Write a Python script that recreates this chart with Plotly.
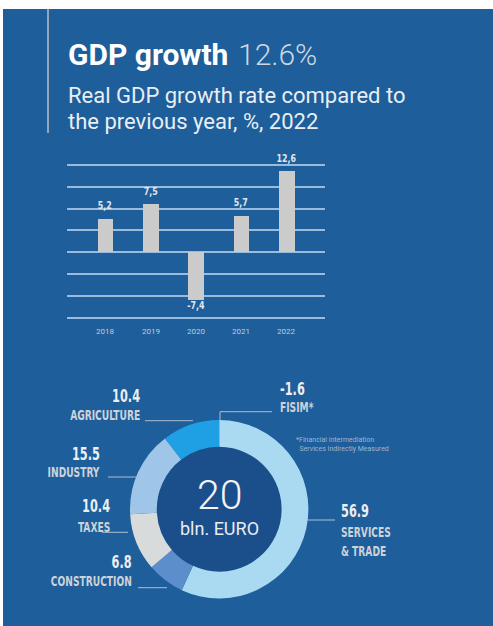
import plotly.graph_objects as go

# ---------------- data ----------------
years = ["2018", "2019", "2020", "2021", "2022"]
growth = [5.2, 7.5, -7.4, 5.7, 12.6]
growth_labels = ["5,2", "7,5", "-7,4", "5,7", "12,6"]

sectors = ["SERVICES<br>& TRADE", "CONSTRUCTION", "TAXES", "INDUSTRY", "AGRICULTURE"]
shares = [56.9, 6.8, 10.4, 15.5, 10.4]
fisim_label = "FISIM*"
fisim_value = -1.6
total_value = "20"
total_unit = "bln. EURO"

W, H = 493, 626
BG = "#1d5e9b"

def px(x):
    return x / W

def py(y):
    return 1 - y / H

# condensed label fonts (second family only used as a CSS hook for the anchor side)
COND_R = "DejaVu Sans Condensed, Roboto, sans-serif"
COND_L = "DejaVu Sans Condensed, Lato, sans-serif"
COND_C = "DejaVu Sans Condensed, Inter, sans-serif"
ROB = "Roboto, Noto Sans, sans-serif"

fig = go.Figure()

# ---------------- bar chart ----------------
fig.add_trace(go.Bar(
    x=years, y=growth, marker=dict(color="#cbcbcb", line=dict(width=0)),
    width=0.35, hoverinfo="skip", showlegend=False,
))

zero_px = 252.3
ppu = 6.42
top_px, bot_px = 150, 320
fig.update_layout(
    xaxis=dict(type="category", domain=[px(66.7), px(325)], range=[-0.85, 4.85], showgrid=False,
               showticklabels=False, zeroline=False, showline=False, fixedrange=True),
    yaxis=dict(domain=[py(bot_px), py(top_px)],
               range=[-(bot_px - zero_px) / ppu, (zero_px - top_px) / ppu],
               tick0=0, dtick=21.9 / ppu, showgrid=True,
               gridcolor="rgba(185,210,238,0.8)", gridwidth=1.5,
               zeroline=True, zerolinecolor="rgba(185,210,238,0.8)", zerolinewidth=1.5,
               showticklabels=False, showline=False, fixedrange=True),
)

annotations = []
for i, (yr, v, lab) in enumerate(zip(years, growth, growth_labels)):
    annotations.append(dict(
        x=i, y=v, xref="x", yref="y", text=lab, showarrow=False,
        yanchor="middle", yshift=13 if v > 0 else -6,
        font=dict(family=COND_C, size=11, color="#e4e6ea", weight="bold"),
    ))
    annotations.append(dict(
        x=i, y=py(331.7), xref="x", yref="paper", text=yr, showarrow=False,
        yanchor="middle", font=dict(family=ROB, size=8, color="#c3ccd8"),
    ))

# ---------------- donut ----------------
cx, cy, R = 219.2, 509.2, 89.2
colors = ["#aad9f2", "#5b8ecb", "#d8dbdc", "#9fc6e9", "#20a0e4"]
fig.add_trace(go.Pie(
    values=shares, labels=sectors, sort=False, direction="clockwise", rotation=0,
    hole=0.70, marker=dict(colors=colors, line=dict(width=0)),
    textinfo="none", hoverinfo="skip", showlegend=False,
    domain=dict(x=[px(cx - R), px(cx + R)], y=[py(cy + R), py(cy - R)]),
))

shapes = [
    dict(type="rect", xref="paper", yref="paper", x0=0, x1=1, y0=py(9), y1=1,
         fillcolor="white", line=dict(width=0), layer="below"),
    dict(type="rect", xref="paper", yref="paper", x0=0, x1=px(3), y0=0, y1=1,
         fillcolor="white", line=dict(width=0), layer="below"),
    dict(type="line", xref="paper", yref="paper", x0=px(48), x1=px(48), y0=py(9), y1=py(133),
         line=dict(color="#92a5ba", width=2)),
    dict(type="circle", xref="paper", yref="paper",
         x0=px(cx - 62.5), x1=px(cx + 62.5), y0=py(cy + 62.5), y1=py(cy - 62.5),
         fillcolor="#1b4f8c", line=dict(width=0), layer="below"),
]

LINE = dict(color="#aebfd2", width=1)
def hline(x0, x1, y):
    shapes.append(dict(type="line", xref="paper", yref="paper",
                       x0=px(x0), x1=px(x1), y0=py(y), y1=py(y), line=LINE))

hline(145, 193, 420.7)
hline(108, 140, 477)
hline(102, 128, 532.3)
hline(138, 167, 587.7)
hline(308, 335, 520)
hline(220, 272, 411.7)
shapes.append(dict(type="line", xref="paper", yref="paper", x0=px(220), x1=px(220),
                   y0=py(411.7), y1=py(420), line=LINE))

def label(val, name, x, yv, yn, anchor):
    fam = COND_R if anchor == "right" else COND_L
    annotations.append(dict(x=px(x), y=py(yv), xref="paper", yref="paper", text=val,
                            showarrow=False, xanchor=anchor, yanchor="middle",
                            font=dict(family=fam, size=18, color="#eceef1", weight="bold")))
    annotations.append(dict(x=px(x), y=py(yn), xref="paper", yref="paper", text=name,
                            showarrow=False, xanchor=anchor, yanchor="middle", align=anchor,
                            font=dict(family=fam, size=14.5, color="#cdd2d9", weight="bold")))

def fmt(v):
    return f"{v:.1f}"

label(fmt(shares[4]), sectors[4], 142, 395, 415, "right")
label(fmt(shares[3]), sectors[3], 102, 453, 472, "right")
label(fmt(shares[2]), sectors[2], 112, 506, 527, "right")
label(fmt(shares[1]), sectors[1], 134, 561.7, 581, "right")
label(fmt(shares[0]), sectors[0], 339, 510.7, 541.5, "left")
label(fmt(fisim_value), fisim_label, 278, 388.3, 407.3, "left")

annotations.append(dict(x=px(294), y=py(444.5), xref="paper", yref="paper",
                        text="*Financial Intermediation<br>  Services Indirectly Measured",
                        showarrow=False, xanchor="left", yanchor="middle", align="left",
                        font=dict(family=ROB, size=7, color="#9db6d2")))

annotations.append(dict(x=px(cx), y=py(495), xref="paper", yref="paper", text=total_value,
                        showarrow=False, xanchor="center", yanchor="middle",
                        font=dict(family=ROB, size=41, color="#f2f4f7", weight=300)))
annotations.append(dict(x=px(cx), y=py(528), xref="paper", yref="paper", text=total_unit,
                        showarrow=False, xanchor="center", yanchor="middle",
                        font=dict(family=ROB, size=18, color="#e8ecf1")))

# ---------------- titles ----------------
annotations.append(dict(x=px(66), y=py(54.5), xref="paper", yref="paper", text="GDP growth",
                        showarrow=False, xanchor="left", yanchor="middle",
                        font=dict(family=ROB, size=30, color="#ffffff", weight="bold")))
annotations.append(dict(x=px(236), y=py(54.5), xref="paper", yref="paper", text="12.6%",
                        showarrow=False, xanchor="left", yanchor="middle",
                        font=dict(family=ROB, size=30, color="#cfd7e1", weight=300)))
annotations.append(dict(x=px(66), y=py(95), xref="paper", yref="paper",
                        text="Real GDP growth rate compared to",
                        showarrow=False, xanchor="left", yanchor="middle",
                        font=dict(family=ROB, size=22, color="#e9eef3")))
annotations.append(dict(x=px(66), y=py(121.5), xref="paper", yref="paper",
                        text="the previous year, %, 2022",
                        showarrow=False, xanchor="left", yanchor="middle",
                        font=dict(family=ROB, size=22, color="#e9eef3")))

fig.update_layout(
    width=W, height=H, autosize=False,
    margin=dict(l=0, r=0, t=0, b=0, pad=0),
    paper_bgcolor=BG, plot_bgcolor="rgba(0,0,0,0)",
    shapes=shapes, annotations=annotations, bargap=0,
    showlegend=False,
)

css = (
    "text.annotation-text[style*='Condensed']{transform-box:fill-box;}"
    "text.annotation-text[style*='Condensed'][style*='Roboto']{transform:scaleX(0.7);transform-origin:100% 50%;}"
    "text.annotation-text[style*='Condensed'][style*='Lato']{transform:scaleX(0.7);transform-origin:0% 50%;}"
    "text.annotation-text[style*='Condensed'][style*='Inter']{transform:scaleX(0.8);transform-origin:50% 50%;}"
)
post = (
    "document.body.style.margin='0';document.body.style.overflow='hidden';"
    "var st=document.createElement('style');st.textContent=\"" + css + "\";"
    "document.head.appendChild(st);"
)

fig.write_html("out.html", config={"displayModeBar": False}, post_script=post)
